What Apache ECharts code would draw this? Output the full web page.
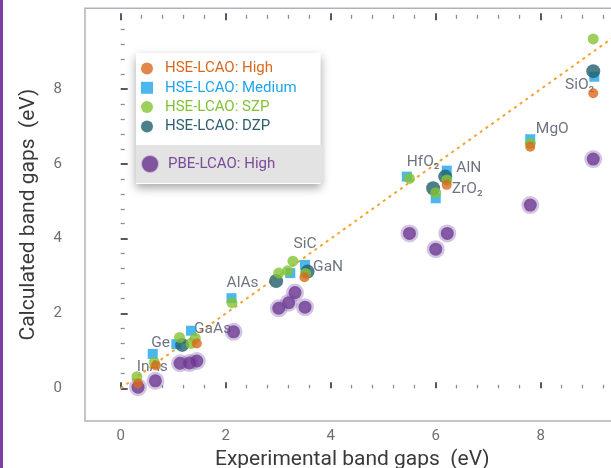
<!DOCTYPE html>
<html>
<head>
<meta charset="utf-8">
<script src="https://cdn.jsdelivr.net/npm/echarts@6/dist/echarts.min.js"></script>
<style>html,body{margin:0;padding:0;background:#fff;}#c{width:611px;height:468px;}</style>
</head>
<body>
<div id="c"></div>
<script>
// ---- data ----
const highData = [[0.33,0.13],[0.67,0.61],[1.45,1.2],[3.5,2.97],[6.21,5.44],[7.8,6.46],[9.0,7.89]];
const mediumData = [[0.61,0.92],[1.06,1.18],[1.34,1.54],[2.11,2.41],[3.23,3.08],[3.51,3.3],[5.45,5.66],[6.21,5.82],[6.0,5.08],[7.8,6.66],[9.02,8.33]];
const szpData = [[0.31,0.31],[0.64,0.69],[1.12,1.36],[1.34,1.2],[1.42,1.34],[2.12,2.29],[3.01,3.08],[3.18,3.14],[3.28,3.4],[3.52,3.07],[5.5,5.61],[6.21,5.57],[6.0,5.23],[7.8,6.55],[9.0,9.34]];
const dzpData = [[1.17,1.16],[2.96,2.87],[3.56,3.12],[6.18,5.66],[5.95,5.35],[9.0,8.48]];
const pbeData = [[0.33,0.03],[0.66,0.2],[1.13,0.67],[1.31,0.68],[1.45,0.73],[2.15,1.51],[3.01,2.14],[3.2,2.29],[3.32,2.56],[3.51,2.17],[5.5,4.14],[6.0,3.72],[6.22,4.14],[7.8,4.9],[9.0,6.13]];
const idealLine = [[0,0],[9.7,9.7]];
const labelNames = ['InAs','Ge','GaAs','AlAs','SiC','GaN','HfO\u2082','AlN','ZrO\u2082','MgO','SiO\u2082'];
const labelX = [0.60,0.76,1.75,2.32,3.51,3.95,5.76,6.63,6.60,8.22,8.74];
const labelY = [0.57,1.22,1.58,2.81,3.86,3.25,6.06,5.88,5.32,6.93,8.11];
const xTickLabels = [0,2,4,6,8];
const yTickLabels = [0,2,4,6,8];
const xMinorTicks = [0.4,0.8,1.2,1.6,2.4,2.8,3.2,3.6,4.4,4.8,5.2,5.6,6.4,6.8,7.2,7.6,8.4,8.8,9.2];
const yMinorTicks = [0.4,0.8,1.2,1.6,2.4,2.8,3.2,3.6,4.4,4.8,5.2,5.6,6.4,6.8,7.2,7.6,8.4,8.8,9.2,9.6];
const seriesNames = ['HSE-LCAO: High','HSE-LCAO: Medium','HSE-LCAO: SZP','HSE-LCAO: DZP','PBE-LCAO: High'];
const XMIN = -0.68, XMAX = 9.5, YMIN = -0.874, YMAX = 10.16;

const FONT = 'Roboto';
const C_HIGH = '#d8691c', C_MED = '#1ea5ea', C_SZP = '#83c333', C_DZP = '#1f5f6c', C_PBE = '#66308c';

function tickAxis(pos, offset, len, vals, major, dim) {
  return {
    type: 'value', position: pos, offset: offset, min: dim === 'x' ? XMIN : YMIN, max: dim === 'x' ? XMAX : YMAX,
    axisLine: {show: false}, splitLine: {show: false}, axisLabel: {show: false},
    axisTick: {show: true, inside: true, length: len, customValues: vals,
      lineStyle: {color: major ? '#555a62' : '#8a8e96', width: major ? 2 : 1.3}},
    silent: true
  };
}

const chart = echarts.init(document.getElementById('c'), null, {renderer: 'canvas'});
chart.setOption({
  animation: false,
  backgroundColor: '#fff',
  textStyle: {fontFamily: FONT},
  graphic: [{type: 'rect', left: 0, top: 0, shape: {width: 3, height: 468}, style: {fill: '#7d3fa5'}}],
  grid: {left: 85, top: 8.3, right: -8.5, bottom: 47, show: true, borderColor: '#aeb2bc', borderWidth: 1.5,
    backgroundColor: 'transparent', containLabel: false, outerBoundsMode: 'none'},
  legend: [
    {
      orient: 'vertical', left: 136, top: 53, padding: [8, 24, 50, 5], itemGap: 4.3,
      itemWidth: 26, itemHeight: 12, backgroundColor: '#fff', borderWidth: 0,
      shadowBlur: 9, shadowColor: 'rgba(0,0,0,0.35)', shadowOffsetX: 0, shadowOffsetY: 4,
      textStyle: {fontFamily: FONT, fontSize: 15},
      selectedMode: false,
      data: [
        {name: seriesNames[0], textStyle: {color: C_HIGH}},
        {name: seriesNames[1], icon: 'path://M0 0H10V10H0Z', textStyle: {color: C_MED}},
        {name: seriesNames[2], textStyle: {color: C_SZP}},
        {name: seriesNames[3], textStyle: {color: '#2d5f6e'}}
      ]
    },
    {
      orient: 'vertical', left: 136, top: 145, padding: [10, 49, 10, 5],
      itemWidth: 26, itemHeight: 16, backgroundColor: '#e3e3e3',
      textStyle: {fontFamily: FONT, fontSize: 15},
      selectedMode: false,
      data: [{name: seriesNames[4], textStyle: {color: '#7a4b99'}}]
    }
  ],
  xAxis: [
    {
      type: 'value', position: 'bottom', min: XMIN, max: XMAX,
      axisLine: {show: false}, axisTick: {show: false}, splitLine: {show: false},
      axisLabel: {customValues: xTickLabels, margin: 8, color: '#6c6f75', fontSize: 15, fontFamily: FONT},
      name: 'Experimental band gaps  (eV)', nameLocation: 'middle', nameGap: 24,
      nameTextStyle: {color: '#3a3a3a', fontSize: 21, fontFamily: FONT}
    },
    tickAxis('bottom', -5, 6, xTickLabels, true, 'x'),
    tickAxis('bottom', -6, 3.5, xMinorTicks, false, 'x'),
    tickAxis('top', -5, 7, xTickLabels, true, 'x'),
    tickAxis('top', -6.5, 4, xMinorTicks, false, 'x')
  ],
  yAxis: [
    {
      type: 'value', position: 'left', min: YMIN, max: YMAX,
      axisLine: {show: false}, axisTick: {show: false}, splitLine: {show: false},
      axisLabel: {customValues: yTickLabels, margin: 23, color: '#6c6f75', fontSize: 15, fontFamily: FONT},
      name: 'Calculated band gaps  (eV)', nameLocation: 'middle', nameGap: 46,
      nameTextStyle: {color: '#3a3a3a', fontSize: 21, fontFamily: FONT}
    },
    tickAxis('left', -4, 7, yTickLabels, true, 'y'),
    tickAxis('left', -5, 4, yMinorTicks, false, 'y')
  ],
  series: [
    {
      type: 'line', name: 'ideal', data: idealLine, symbol: 'none', silent: true, z: 1,
      lineStyle: {color: '#f4a431', width: 2, type: [3, 4]}
    },
    {
      type: 'scatter', name: 'labels', silent: true, z: 2,
      data: labelNames.map((n, i) => ({name: n, value: [labelX[i], labelY[i]]})),
      symbolSize: 1, itemStyle: {color: 'rgba(0,0,0,0)'},
      label: {show: true, position: 'inside', formatter: p => p.name, color: '#4b5162', fontSize: 15.5, fontFamily: FONT}
    },
    {
      type: 'scatter', name: seriesNames[4], data: pbeData, z: 3, symbol: 'circle', symbolSize: 13,
      itemStyle: {color: C_PBE, borderColor: 'rgba(125,80,165,0.42)', borderWidth: 5}
    },
    {
      type: 'scatter', name: seriesNames[1], data: mediumData, z: 4, symbol: 'rect', symbolSize: 10,
      itemStyle: {color: C_MED}
    },
    {
      type: 'scatter', name: seriesNames[3], data: dzpData, z: 5, symbol: 'circle', symbolSize: 14,
      itemStyle: {color: C_DZP}
    },
    {
      type: 'scatter', name: seriesNames[2], data: szpData, z: 6, symbol: 'circle', symbolSize: 11,
      itemStyle: {color: C_SZP}
    },
    {
      type: 'scatter', name: seriesNames[0], data: highData, z: 7, symbol: 'circle', symbolSize: 10,
      itemStyle: {color: C_HIGH}
    }
  ]
});
</script>
</body>
</html>
